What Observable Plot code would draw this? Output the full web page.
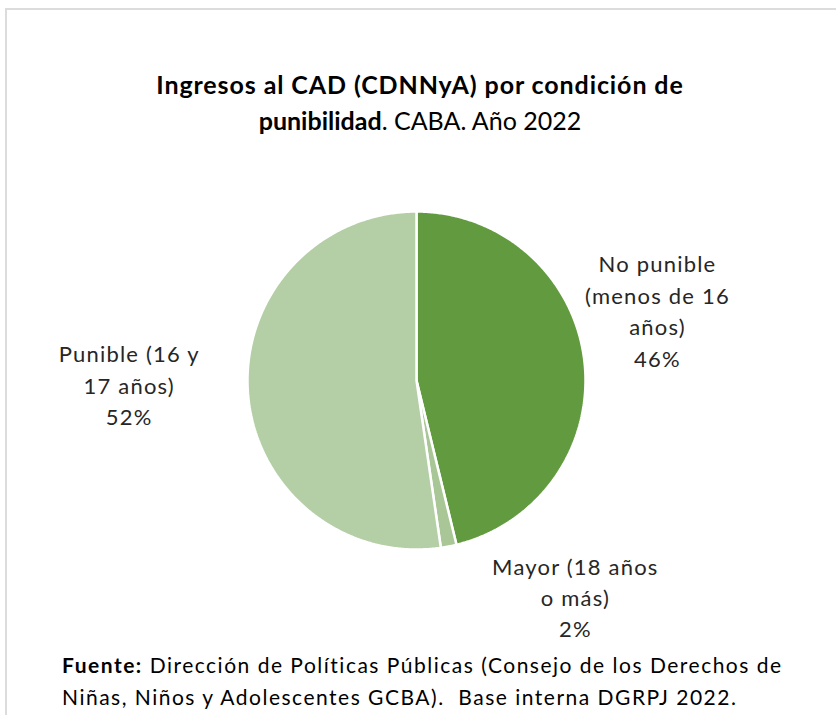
<!DOCTYPE html>
<html>
<head>
<meta charset="utf-8">
<script src="https://cdn.jsdelivr.net/npm/d3@7"></script>
<script src="https://cdn.jsdelivr.net/npm/@observablehq/plot@0.6"></script>
<style>
  html, body { margin: 0; padding: 0; background: #fff; }
  body { width: 836px; height: 715px; position: relative; overflow: hidden; font-family: Lato, "Open Sans", sans-serif; color: #1a1a1a; }
  #frame { position: absolute; left: 5px; top: 8px; width: 840px; height: 720px; border-left: 2px solid #dcdcdc; border-top: 2px solid #dcdcdc; }
  #title { position: absolute; left: 0; width: 840px; top: 66px; text-align: center; font-size: 25px; line-height: 36px; color: #000; }
  #title .l1 { letter-spacing: 0.9px; }
  #chart { position: absolute; left: 0; top: 150px; }
  #chart text { letter-spacing: 1.2px; }
  #caption { position: absolute; left: 62px; top: 649px; font-size: 21px; line-height: 32px; color: #000; letter-spacing: 1.5px; white-space: nowrap; }
</style>
</head>
<body>
<div id="frame"></div>
<div id="title"><b class="l1">Ingresos al CAD (CDNNyA) por condición de</b><br><b>punibilidad</b>. CABA. Año 2022</div>
<div id="chart"></div>
<div id="caption"><b>Fuente:</b> Dirección de Políticas Públicas (Consejo de los Derechos de<br>Niñas, Niños y Adolescentes GCBA).&nbsp; Base interna DGRPJ 2022.</div>
<script>
// Data
const categories = ["No punible (menos de 16 años)", "Mayor (18 años o más)", "Punible (16 y 17 años)"];
const values = [46.2, 1.5, 52.3];
const labelLines = [["No punible", "(menos de 16", "años)"], ["Mayor (18 años", "o más)"], ["Punible (16 y", "17 años)"]];
const colors = ["#629B3F", "#A9C796", "#B4CEA6"];

// Label anchor positions in pie-radius units (layout, like Excel's label placement)
const labelPos = [[1.426, 0.42], [0.94, -1.275], [-1.70, -0.02]];

const total = d3.sum(values);
const arcs = d3.pie().sort(null).startAngle(0).endAngle(2 * Math.PI)(values);

// Build slice outlines in unit coordinates
const slicePts = [];
arcs.forEach((a, i) => {
  const name = categories[i];
  slicePts.push({name, x: 0, y: 0});
  const n = Math.max(2, Math.ceil((a.endAngle - a.startAngle) / (Math.PI / 360)));
  for (let k = 0; k <= n; k++) {
    const t = a.startAngle + (a.endAngle - a.startAngle) * k / n;
    slicePts.push({name, x: Math.sin(t), y: Math.cos(t)});
  }
  slicePts.push({name, x: 0, y: 0});
});

const labels = categories.map((c, i) => ({
  name: c,
  x: labelPos[i][0],
  y: labelPos[i][1],
  text: [...labelLines[i], Math.round(values[i] / total * 100) + "%"].join("\n")
}));

const R = 169, cx = 416, cy = 230;
const chart = Plot.plot({
  width: 836,
  height: 498,
  margin: 0,
  x: {domain: [-1, 1], range: [cx - R, cx + R], axis: null},
  y: {domain: [-1, 1], range: [cy + R, cy - R], axis: null},
  color: {domain: categories, range: colors},
  style: {fontFamily: "Lato, 'Open Sans', sans-serif", background: "transparent"},
  marks: [
    Plot.line(slicePts, {x: "x", y: "y", z: "name", fill: "name", stroke: "white", strokeWidth: 2.5, strokeLinejoin: "miter", curve: "linear"}),
    Plot.text(labels, {x: "x", y: "y", text: "text", fontSize: 22, lineHeight: 1.43, fill: "#262626", textAnchor: "middle", lineAnchor: "middle"})
  ]
});
document.getElementById("chart").appendChild(chart);
</script>
</body>
</html>
